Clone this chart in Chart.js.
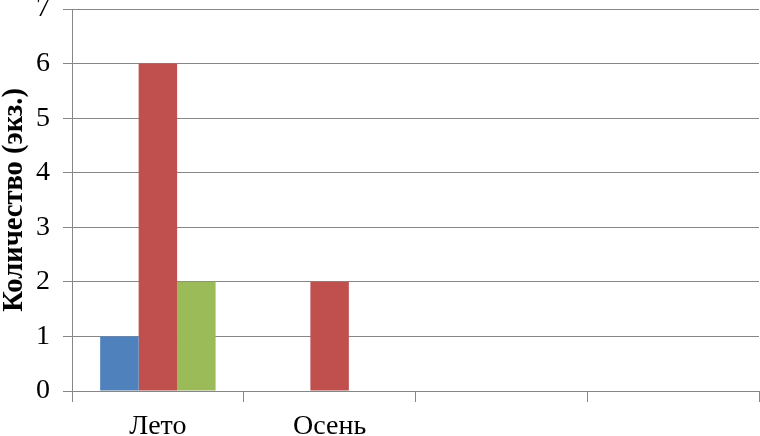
<!DOCTYPE html>
<html>
<head>
<meta charset="utf-8">
<script src="https://cdn.jsdelivr.net/npm/chart.js@4"></script>
<style>
  html, body { margin: 0; padding: 0; background: #fff; }
  #wrap { width: 760px; height: 436px; }
</style>
</head>
<body>
<div id="wrap"><canvas id="seasonChart" width="760" height="436"></canvas></div>
<script>
const categories = ["Лето", "Осень", "", ""];
const seriesBlue = [1, 0, null, null];
const seriesRed = [6, 2, null, null];
const seriesGreen = [2, 0, null, null];
const yTicks = [0, 1, 2, 3, 4, 5, 6, 7];

const gridColor = "#878787";
const serif = "'Liberation Serif', 'Times New Roman', serif";

const ctx = document.getElementById("seasonChart").getContext("2d");

new Chart(ctx, {
    type: "bar",
    data: {
        labels: categories,
        datasets: [
            { label: "Ряд 1", data: seriesBlue, backgroundColor: "#4F81BD" },
            { label: "Ряд 2", data: seriesRed, backgroundColor: "#C0504D" },
            { label: "Ряд 3", data: seriesGreen, backgroundColor: "#9BBB59" }
        ]
    },
    options: {
        responsive: false,
        animation: false,
        datasets: {
            bar: { categoryPercentage: 0.672, barPercentage: 1.0 }
        },
        layout: { padding: { top: 9, right: 1, left: 0, bottom: 0 } },
        plugins: {
            legend: { display: false },
            tooltip: { enabled: false }
        },
        scales: {
            x: {
                grid: {
                    offset: true,
                    drawOnChartArea: false,
                    color: gridColor,
                    tickLength: 11
                },
                border: { color: gridColor },
                ticks: {
                    color: "#000",
                    font: { family: serif, size: 28 },
                    padding: 8,
                    maxRotation: 0
                },
                afterFit: scale => {
                    scale.height = 45;
                    scale.paddingLeft = 0;
                    scale.paddingRight = 0;
                }
            },
            y: {
                min: 0,
                max: yTicks[yTicks.length - 1],
                afterBuildTicks: scale => { scale.ticks = yTicks.map(v => ({ value: v })); },
                grid: { color: gridColor, tickLength: 9 },
                border: { color: gridColor },
                ticks: {
                    color: "#000",
                    font: { family: serif, size: 28 },
                    padding: 13
                },
                title: {
                    display: true,
                    text: "Количество (экз.)",
                    color: "#000",
                    font: { family: serif, size: 28.5, weight: "bold", lineHeight: 0.82 },
                    padding: { top: 3, bottom: 0 }
                },
                afterFit: scale => {
                    scale.width = 72;
                    scale.paddingTop = 0;
                    scale.paddingBottom = 0;
                }
            }
        }
    }
});
</script>
</body>
</html>
